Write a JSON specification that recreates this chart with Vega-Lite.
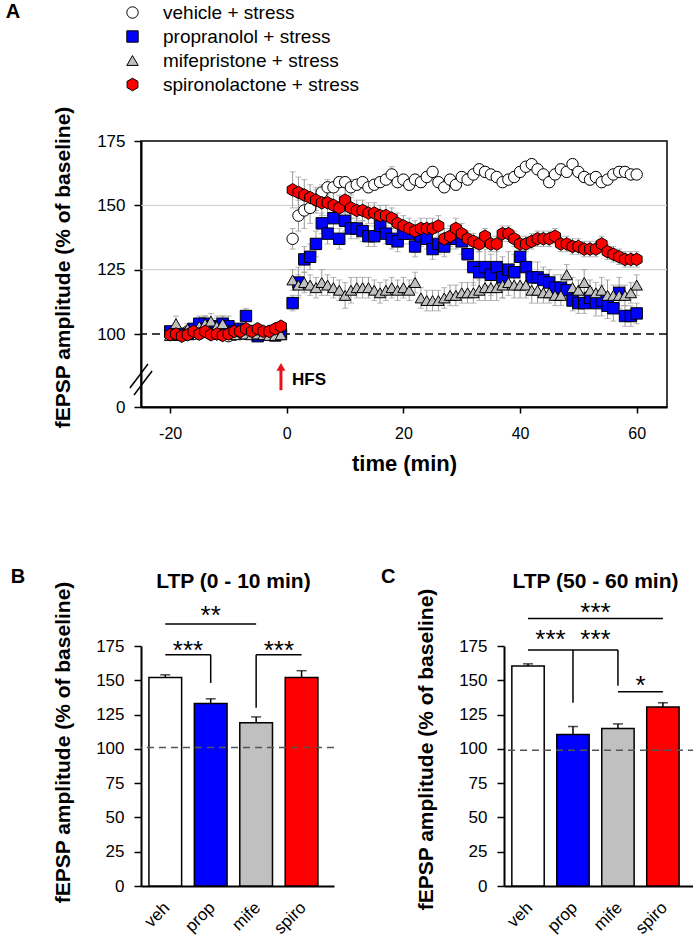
{
"$schema":"https://vega.github.io/schema/vega-lite/v6.json",
"padding":{"left":4,"top":1,"right":0,"bottom":0},
"config":{"font":"Liberation Sans","view":{"stroke":null},
"axis":{"domainColor":"black","domainWidth":2,"tickColor":"black","tickWidth":1.5,"labelColor":"black","titleColor":"black","grid":false}},
"resolve":{"scale":{"color":"independent","shape":"independent","stroke":"independent"},"legend":{"color":"independent","shape":"independent","stroke":"independent"}},
"datasets":{
"ts":[
{"g":"v","t":-20,"y":100,"e":2},{"g":"v","t":-19,"y":99,"e":1.5},{"g":"v","t":-18,"y":100,"e":1.5},{"g":"v","t":-17,"y":101,"e":2},{"g":"v","t":-16,"y":100,"e":1.5},{"g":"v","t":-15,"y":100,"e":1.5},{"g":"v","t":-14,"y":101,"e":2},{"g":"v","t":-13,"y":100,"e":1.5},{"g":"v","t":-12,"y":100,"e":1.5},{"g":"v","t":-11,"y":99,"e":2},{"g":"v","t":-10,"y":97,"e":2},{"g":"v","t":-9,"y":99,"e":1.5},{"g":"v","t":-8,"y":100,"e":1.5},{"g":"v","t":-7,"y":100,"e":1.5},{"g":"v","t":-6,"y":101,"e":2},{"g":"v","t":-5,"y":100,"e":1.5},{"g":"v","t":-4,"y":100,"e":1.5},{"g":"v","t":-3,"y":101,"e":1.5},{"g":"v","t":-2,"y":101,"e":1.5},{"g":"v","t":-1,"y":101,"e":1.5},
{"g":"v","t":1,"y":137,"e":4},{"g":"v","t":2,"y":146,"e":6},{"g":"v","t":3,"y":148,"e":7},{"g":"v","t":4,"y":149,"e":6},{"g":"v","t":5,"y":152,"e":4},{"g":"v","t":6,"y":155,"e":3},{"g":"v","t":7,"y":157,"e":3},{"g":"v","t":8,"y":157,"e":2},{"g":"v","t":9,"y":159,"e":2},{"g":"v","t":10,"y":159,"e":2},
{"g":"v","t":11,"y":157,"e":3},{"g":"v","t":12,"y":158,"e":2},{"g":"v","t":13,"y":159,"e":2},{"g":"v","t":14,"y":157,"e":2},{"g":"v","t":15,"y":158,"e":2},{"g":"v","t":16,"y":159,"e":2},{"g":"v","t":17,"y":160,"e":2},{"g":"v","t":18,"y":162,"e":3},{"g":"v","t":19,"y":159,"e":2},{"g":"v","t":20,"y":160,"e":2},
{"g":"v","t":21,"y":158,"e":2},{"g":"v","t":22,"y":160,"e":2},{"g":"v","t":23,"y":159,"e":2},{"g":"v","t":24,"y":161,"e":2},{"g":"v","t":25,"y":163,"e":2},{"g":"v","t":26,"y":159,"e":2},{"g":"v","t":27,"y":157,"e":2},{"g":"v","t":28,"y":160,"e":2},{"g":"v","t":29,"y":158,"e":2},{"g":"v","t":30,"y":161,"e":2},
{"g":"v","t":31,"y":160,"e":2},{"g":"v","t":32,"y":162,"e":2},{"g":"v","t":33,"y":164,"e":2},{"g":"v","t":34,"y":163,"e":2},{"g":"v","t":35,"y":162,"e":2},{"g":"v","t":36,"y":161,"e":2},{"g":"v","t":37,"y":159,"e":2},{"g":"v","t":38,"y":160,"e":2},{"g":"v","t":39,"y":161,"e":2},{"g":"v","t":40,"y":163,"e":2},
{"g":"v","t":41,"y":165,"e":2},{"g":"v","t":42,"y":166,"e":2},{"g":"v","t":43,"y":164,"e":2},{"g":"v","t":44,"y":162,"e":2},{"g":"v","t":45,"y":159,"e":2},{"g":"v","t":46,"y":162,"e":2},{"g":"v","t":47,"y":164,"e":2},{"g":"v","t":48,"y":163,"e":2},{"g":"v","t":49,"y":166,"e":2},{"g":"v","t":50,"y":163,"e":2},
{"g":"v","t":51,"y":161,"e":2},{"g":"v","t":52,"y":160,"e":2},{"g":"v","t":53,"y":161,"e":2},{"g":"v","t":54,"y":159,"e":2},{"g":"v","t":55,"y":160,"e":2},{"g":"v","t":56,"y":162,"e":2},{"g":"v","t":57,"y":163,"e":2},{"g":"v","t":58,"y":163,"e":2},{"g":"v","t":59,"y":162,"e":2},{"g":"v","t":60,"y":162,"e":2},
{"g":"p","t":-20,"y":101,"e":2},{"g":"p","t":-19,"y":99,"e":2},{"g":"p","t":-18,"y":100,"e":2},{"g":"p","t":-17,"y":100,"e":2},{"g":"p","t":-16,"y":102,"e":2},{"g":"p","t":-15,"y":104,"e":3},{"g":"p","t":-14,"y":104,"e":3},{"g":"p","t":-13,"y":103,"e":2},{"g":"p","t":-12,"y":102,"e":4},{"g":"p","t":-11,"y":104,"e":3},{"g":"p","t":-10,"y":103,"e":4},{"g":"p","t":-9,"y":101,"e":2},{"g":"p","t":-8,"y":102,"e":2},{"g":"p","t":-7,"y":107,"e":3},{"g":"p","t":-6,"y":101,"e":2},{"g":"p","t":-5,"y":97,"e":2},{"g":"p","t":-4,"y":100,"e":2},{"g":"p","t":-3,"y":99,"e":2},{"g":"p","t":-2,"y":98,"e":2},{"g":"p","t":-1,"y":100,"e":2},
{"g":"p","t":1,"y":112,"e":3},{"g":"p","t":2,"y":120,"e":6},{"g":"p","t":3,"y":129,"e":5},{"g":"p","t":4,"y":130,"e":5},{"g":"p","t":5,"y":135,"e":5},{"g":"p","t":6,"y":143,"e":4},{"g":"p","t":7,"y":139,"e":4},{"g":"p","t":8,"y":145,"e":4},{"g":"p","t":9,"y":137,"e":4},{"g":"p","t":10,"y":144,"e":4},
{"g":"p","t":11,"y":141,"e":4},{"g":"p","t":12,"y":141,"e":4},{"g":"p","t":13,"y":140,"e":4},{"g":"p","t":14,"y":138,"e":4},{"g":"p","t":15,"y":138,"e":4},{"g":"p","t":16,"y":142,"e":4},{"g":"p","t":17,"y":139,"e":4},{"g":"p","t":18,"y":137,"e":4},{"g":"p","t":19,"y":136,"e":4},{"g":"p","t":20,"y":139,"e":4},
{"g":"p","t":21,"y":139,"e":4},{"g":"p","t":22,"y":134,"e":4},{"g":"p","t":23,"y":138,"e":4},{"g":"p","t":24,"y":137,"e":4},{"g":"p","t":25,"y":133,"e":4},{"g":"p","t":26,"y":135,"e":4},{"g":"p","t":27,"y":134,"e":4},{"g":"p","t":28,"y":137,"e":4},{"g":"p","t":29,"y":137,"e":4},{"g":"p","t":30,"y":136,"e":5},
{"g":"p","t":31,"y":131,"e":6},{"g":"p","t":32,"y":126,"e":7},{"g":"p","t":33,"y":124,"e":8},{"g":"p","t":34,"y":126,"e":7},{"g":"p","t":35,"y":123,"e":8},{"g":"p","t":36,"y":126,"e":7},{"g":"p","t":37,"y":122,"e":8},{"g":"p","t":38,"y":125,"e":7},{"g":"p","t":39,"y":124,"e":7},{"g":"p","t":40,"y":130,"e":6},
{"g":"p","t":41,"y":126,"e":7},{"g":"p","t":42,"y":122,"e":6},{"g":"p","t":43,"y":122,"e":6},{"g":"p","t":44,"y":121,"e":5},{"g":"p","t":45,"y":120,"e":5},{"g":"p","t":46,"y":118,"e":5},{"g":"p","t":47,"y":118,"e":5},{"g":"p","t":48,"y":117,"e":4},{"g":"p","t":49,"y":113,"e":4},{"g":"p","t":50,"y":112,"e":4},
{"g":"p","t":51,"y":112,"e":4},{"g":"p","t":52,"y":114,"e":4},{"g":"p","t":53,"y":112,"e":5},{"g":"p","t":54,"y":113,"e":6},{"g":"p","t":55,"y":111,"e":5},{"g":"p","t":56,"y":110,"e":5},{"g":"p","t":57,"y":116,"e":6},{"g":"p","t":58,"y":107,"e":4},{"g":"p","t":59,"y":107,"e":4},{"g":"p","t":60,"y":108,"e":4},
{"g":"m","t":-20,"y":98,"e":2},{"g":"m","t":-19,"y":104,"e":3},{"g":"m","t":-18,"y":100,"e":2},{"g":"m","t":-17,"y":102,"e":2},{"g":"m","t":-16,"y":101,"e":2},{"g":"m","t":-15,"y":103,"e":3},{"g":"m","t":-14,"y":104,"e":3},{"g":"m","t":-13,"y":105,"e":3},{"g":"m","t":-12,"y":103,"e":4},{"g":"m","t":-11,"y":104,"e":3},{"g":"m","t":-10,"y":100,"e":2},{"g":"m","t":-9,"y":99,"e":2},{"g":"m","t":-8,"y":101,"e":2},{"g":"m","t":-7,"y":100,"e":2},{"g":"m","t":-6,"y":99,"e":2},{"g":"m","t":-5,"y":100,"e":2},{"g":"m","t":-4,"y":99,"e":2},{"g":"m","t":-3,"y":98,"e":2},{"g":"m","t":-2,"y":98,"e":2},{"g":"m","t":-1,"y":99,"e":2},
{"g":"m","t":1,"y":121,"e":4},{"g":"m","t":2,"y":119,"e":4},{"g":"m","t":3,"y":120,"e":4},{"g":"m","t":4,"y":119,"e":4},{"g":"m","t":5,"y":118,"e":4},{"g":"m","t":6,"y":120,"e":5},{"g":"m","t":7,"y":119,"e":4},{"g":"m","t":8,"y":118,"e":4},{"g":"m","t":9,"y":117,"e":4},{"g":"m","t":10,"y":115,"e":5},
{"g":"m","t":11,"y":117,"e":5},{"g":"m","t":12,"y":118,"e":4},{"g":"m","t":13,"y":118,"e":4},{"g":"m","t":14,"y":118,"e":4},{"g":"m","t":15,"y":117,"e":4},{"g":"m","t":16,"y":116,"e":4},{"g":"m","t":17,"y":117,"e":4},{"g":"m","t":18,"y":118,"e":4},{"g":"m","t":19,"y":117,"e":4},{"g":"m","t":20,"y":118,"e":4},
{"g":"m","t":21,"y":117,"e":4},{"g":"m","t":22,"y":120,"e":4},{"g":"m","t":23,"y":114,"e":4},{"g":"m","t":24,"y":113,"e":4},{"g":"m","t":25,"y":113,"e":4},{"g":"m","t":26,"y":113,"e":4},{"g":"m","t":27,"y":114,"e":4},{"g":"m","t":28,"y":115,"e":4},{"g":"m","t":29,"y":115,"e":4},{"g":"m","t":30,"y":116,"e":4},
{"g":"m","t":31,"y":116,"e":4},{"g":"m","t":32,"y":116,"e":4},{"g":"m","t":33,"y":117,"e":4},{"g":"m","t":34,"y":118,"e":5},{"g":"m","t":35,"y":118,"e":5},{"g":"m","t":36,"y":118,"e":5},{"g":"m","t":37,"y":119,"e":5},{"g":"m","t":38,"y":120,"e":5},{"g":"m","t":39,"y":119,"e":5},{"g":"m","t":40,"y":119,"e":5},
{"g":"m","t":41,"y":119,"e":5},{"g":"m","t":42,"y":117,"e":5},{"g":"m","t":43,"y":117,"e":5},{"g":"m","t":44,"y":116,"e":4},{"g":"m","t":45,"y":116,"e":4},{"g":"m","t":46,"y":115,"e":4},{"g":"m","t":47,"y":115,"e":4},{"g":"m","t":48,"y":123,"e":4},{"g":"m","t":49,"y":118,"e":4},{"g":"m","t":50,"y":117,"e":4},
{"g":"m","t":51,"y":120,"e":5},{"g":"m","t":52,"y":117,"e":4},{"g":"m","t":53,"y":116,"e":4},{"g":"m","t":54,"y":117,"e":5},{"g":"m","t":55,"y":115,"e":6},{"g":"m","t":56,"y":115,"e":4},{"g":"m","t":57,"y":115,"e":4},{"g":"m","t":58,"y":115,"e":4},{"g":"m","t":59,"y":116,"e":4},{"g":"m","t":60,"y":119,"e":4},
{"g":"s","t":-20,"y":99,"e":1.5},{"g":"s","t":-19,"y":100,"e":1.5},{"g":"s","t":-18,"y":97,"e":1.5},{"g":"s","t":-17,"y":99,"e":1.5},{"g":"s","t":-16,"y":101,"e":1.5},{"g":"s","t":-15,"y":100,"e":1.5},{"g":"s","t":-14,"y":101,"e":1.5},{"g":"s","t":-13,"y":99,"e":1.5},{"g":"s","t":-12,"y":100,"e":1.5},{"g":"s","t":-11,"y":98,"e":1.5},{"g":"s","t":-10,"y":100,"e":1.5},{"g":"s","t":-9,"y":101,"e":1.5},{"g":"s","t":-8,"y":101,"e":1.5},{"g":"s","t":-7,"y":102,"e":1.5},{"g":"s","t":-6,"y":101,"e":1.5},{"g":"s","t":-5,"y":102,"e":1.5},{"g":"s","t":-4,"y":101,"e":1.5},{"g":"s","t":-3,"y":101,"e":1.5},{"g":"s","t":-2,"y":102,"e":1.5},{"g":"s","t":-1,"y":103,"e":1.5},
{"g":"s","t":1,"y":156,"e":7},{"g":"s","t":2,"y":155,"e":6},{"g":"s","t":3,"y":154,"e":6},{"g":"s","t":4,"y":153,"e":5},{"g":"s","t":5,"y":152,"e":5},{"g":"s","t":6,"y":151,"e":5},{"g":"s","t":7,"y":151,"e":5},{"g":"s","t":8,"y":150,"e":5},{"g":"s","t":9,"y":149,"e":5},{"g":"s","t":10,"y":152,"e":5},
{"g":"s","t":11,"y":149,"e":4},{"g":"s","t":12,"y":148,"e":4},{"g":"s","t":13,"y":148,"e":4},{"g":"s","t":14,"y":147,"e":4},{"g":"s","t":15,"y":147,"e":4},{"g":"s","t":16,"y":146,"e":4},{"g":"s","t":17,"y":146,"e":4},{"g":"s","t":18,"y":145,"e":4},{"g":"s","t":19,"y":143,"e":4},{"g":"s","t":20,"y":142,"e":4},
{"g":"s","t":21,"y":141,"e":4},{"g":"s","t":22,"y":140,"e":4},{"g":"s","t":23,"y":141,"e":4},{"g":"s","t":24,"y":141,"e":4},{"g":"s","t":25,"y":141,"e":4},{"g":"s","t":26,"y":142,"e":4},{"g":"s","t":27,"y":137,"e":4},{"g":"s","t":28,"y":138,"e":4},{"g":"s","t":29,"y":141,"e":4},{"g":"s","t":30,"y":139,"e":4},
{"g":"s","t":31,"y":137,"e":3},{"g":"s","t":32,"y":136,"e":3},{"g":"s","t":33,"y":135,"e":3},{"g":"s","t":34,"y":138,"e":3},{"g":"s","t":35,"y":135,"e":3},{"g":"s","t":36,"y":135,"e":3},{"g":"s","t":37,"y":139,"e":3},{"g":"s","t":38,"y":139,"e":3},{"g":"s","t":39,"y":137,"e":3},{"g":"s","t":40,"y":135,"e":3},
{"g":"s","t":41,"y":135,"e":3},{"g":"s","t":42,"y":136,"e":3},{"g":"s","t":43,"y":137,"e":3},{"g":"s","t":44,"y":137,"e":3},{"g":"s","t":45,"y":137,"e":3},{"g":"s","t":46,"y":138,"e":3},{"g":"s","t":47,"y":135,"e":3},{"g":"s","t":48,"y":135,"e":3},{"g":"s","t":49,"y":134,"e":3},{"g":"s","t":50,"y":134,"e":3},
{"g":"s","t":51,"y":133,"e":3},{"g":"s","t":52,"y":133,"e":3},{"g":"s","t":53,"y":133,"e":3},{"g":"s","t":54,"y":135,"e":3},{"g":"s","t":55,"y":132,"e":3},{"g":"s","t":56,"y":131,"e":3},{"g":"s","t":57,"y":130,"e":3},{"g":"s","t":58,"y":129,"e":3},{"g":"s","t":59,"y":129,"e":3},{"g":"s","t":60,"y":129,"e":3}
],
"names":[{"g":"v","name":"vehicle + stress"},{"g":"p","name":"propranolol + stress"},{"g":"m","name":"mifepristone + stress"},{"g":"s","name":"spironolactone + stress"}],
"barsB":[{"g":"veh","m":152,"hi":154},{"g":"prop","m":133,"hi":136.5},{"g":"mife","m":119,"hi":123.3},{"g":"spiro","m":152,"hi":157}],
"barsC":[{"g":"veh","m":160.5,"hi":162},{"g":"prop","m":110.5,"hi":116.3},{"g":"mife","m":114.8,"hi":118.2},{"g":"spiro","m":130.6,"hi":133.6}]
},
"concat":[
{
"width":526,"height":266,
"view":{"stroke":"black","strokeWidth":1.5},
"layer":[
{"data":{"values":[{"y":125},{"y":150}]},"mark":{"type":"rule","color":"#c8c8c8","strokeWidth":1},
 "encoding":{"y":{"field":"y","type":"quantitative","title":"fEPSP amplitude (% of baseline)","scale":{"domain":[0,100,175],"range":[266,193,0],"nice":false,"zero":false},
 "axis":{"values":[0,100,125,150,175],"labelFontSize":17,"tickSize":7,"labelPadding":9,"titleFontSize":21,"titleFontWeight":"bold","titlePadding":23,"titleY":126}}}},
{"data":{"values":[{"y":100}]},"mark":{"type":"rule","color":"black","strokeDash":[8,5],"strokeWidth":1.5},
 "encoding":{"y":{"field":"y","type":"quantitative","title":"fEPSP amplitude (% of baseline)"}}},
{"data":{"name":"ts"},"mark":{"type":"errorbar","color":"#9a9a9a","thickness":1,"ticks":{"size":6}},
 "encoding":{"x":{"field":"t","type":"quantitative","title":"time (min)","scale":{"domain":[-25,65.2],"nice":false,"zero":false}},
 "y":{"field":"y","type":"quantitative","title":"fEPSP amplitude (% of baseline)"},"yError":{"field":"e"}}},
{"data":{"name":"ts"},"transform":[{"lookup":"g","from":{"data":{"name":"names"},"key":"g","fields":["name"]}}],
 "mark":{"type":"point","filled":true,"strokeWidth":1,"size":130,"opacity":1},
 "encoding":{"x":{"field":"t","type":"quantitative","title":"time (min)","scale":{"domain":[-25,65.2],"nice":false,"zero":false},
 "axis":{"values":[-20,0,20,40,60],"labelExpr":"replace(datum.label,'\u2212','-')","labelFontSize":16,"tickSize":6,"labelPadding":12,"titleFontSize":22,"titleFontWeight":"bold","titlePadding":12}},
 "y":{"field":"y","type":"quantitative","title":"fEPSP amplitude (% of baseline)"},
 "color":{"field":"name","type":"nominal","scale":{"domain":["vehicle + stress","propranolol + stress","mifepristone + stress","spironolactone + stress"],"range":["#ffffff","#0000ff","#c0c0c0","#ff0000"]},
  "legend":{"title":null,"orient":"none","legendX":-18,"legendY":-138,"padding":0,"rowPadding":4,"labelFontSize":19,"labelOffset":21,"symbolSize":130,"symbolStrokeWidth":1,"symbolOpacity":1,"labelLimit":400}},
 "stroke":{"field":"name","type":"nominal","scale":{"domain":["vehicle + stress","propranolol + stress","mifepristone + stress","spironolactone + stress"],"range":["#000000","#000000","#000000","#000000"]},
  "legend":{"title":null,"orient":"none","legendX":-18,"legendY":-138,"padding":0,"rowPadding":4,"labelFontSize":19,"labelOffset":21,"symbolSize":130,"symbolStrokeWidth":1,"symbolOpacity":1,"labelLimit":400}},
 "shape":{"field":"name","type":"nominal","scale":{"domain":["vehicle + stress","propranolol + stress","mifepristone + stress","spironolactone + stress"],"range":["circle","square","triangle-up","M0,-1.1L0.95,-0.55L0.95,0.55L0,1.1L-0.95,0.55L-0.95,-0.55Z"]},
  "legend":{"title":null,"orient":"none","legendX":-18,"legendY":-138,"padding":0,"rowPadding":4,"labelFontSize":19,"labelOffset":21,"symbolSize":130,"symbolStrokeWidth":1,"symbolOpacity":1,"labelLimit":400}}}},
{"data":{"values":[{"t":-1,"y":23,"y2":51}]},"mark":{"type":"rule","color":"#e8141c","strokeWidth":3},
 "encoding":{"x":{"field":"t","type":"quantitative","title":"time (min)"},"y":{"field":"y","type":"quantitative","title":"fEPSP amplitude (% of baseline)"},"y2":{"field":"y2"}}},
{"data":{"values":[{"t":-1,"y":54.8}]},"mark":{"type":"point","shape":"triangle-up","filled":true,"color":"#e8141c","size":80,"opacity":1},
 "encoding":{"x":{"field":"t","type":"quantitative","title":"time (min)"},"y":{"field":"y","type":"quantitative","title":"fEPSP amplitude (% of baseline)"}}},
{"data":{"values":[{"t":0.9,"y":37,"s":"HFS"}]},"mark":{"type":"text","align":"left","baseline":"middle","fontSize":17,"fontWeight":"bold","color":"black"},
 "encoding":{"x":{"field":"t","type":"quantitative","title":"time (min)"},"y":{"field":"y","type":"quantitative","title":"fEPSP amplitude (% of baseline)"},"text":{"field":"s"}}},
{"data":{"values":[{"t":-26.9,"t2":-23.8,"y":26,"y2":58.9},{"t":-26.2,"t2":-23.1,"y":16.4,"y2":49.3}]},"mark":{"type":"rule","color":"black","strokeWidth":1.5},
 "encoding":{"x":{"field":"t","type":"quantitative","title":"time (min)"},"x2":{"field":"t2"},"y":{"field":"y","type":"quantitative","title":"fEPSP amplitude (% of baseline)"},"y2":{"field":"y2"}}},
{"data":{"values":[{"t":-48.2,"y":229,"s":"A"}]},"mark":{"type":"text","align":"left","baseline":"top","fontSize":20,"fontWeight":"bold","color":"black"},
 "encoding":{"x":{"field":"t","type":"quantitative","title":"time (min)"},"y":{"field":"y","type":"quantitative","title":"fEPSP amplitude (% of baseline)"},"text":{"field":"s"}}}
]
},
{
"hconcat":[
{
"width":193,"height":240,
"layer":[
{"data":{"name":"barsB"},"mark":{"type":"bar","stroke":"black","strokeWidth":1.5},
 "encoding":{"x":{"field":"g","type":"nominal","title":null,"scale":{"domain":["veh","prop","mife","spiro"],"paddingInner":0.28,"paddingOuter":0.264,"align":0.33},
  "axis":{"labels":false,"labelOpacity":0,"ticks":false,"labelFontSize":17,"labelPadding":6}},
  "y":{"field":"m","type":"quantitative","title":"fEPSP amplitude (% of baseline)","scale":{"domain":[0,175],"nice":false},
  "axis":{"values":[0,25,50,75,100,125,150,175],"labelOverlap":false,"labelFontSize":17,"tickSize":7,"labelPadding":10,"titleFontSize":21,"titleFontWeight":"bold","titlePadding":22,"titleY":96}},
 "color":{"field":"g","type":"nominal","scale":{"domain":["veh","prop","mife","spiro"],"range":["#ffffff","#0000ff","#c0c0c0","#ff0000"]},"legend":null}}},
{"data":{"name":"barsB"},"mark":{"type":"rule","color":"black","strokeWidth":1.5},
 "encoding":{"x":{"field":"g","type":"nominal","title":null,"axis":{"labels":false,"labelOpacity":0,"ticks":false,"labelFontSize":17,"labelPadding":6}},
 "y":{"field":"m","type":"quantitative","title":"fEPSP amplitude (% of baseline)","axis":{"values":[0,25,50,75,100,125,150,175],"labelOverlap":false,"labelFontSize":17,"tickSize":7,"labelPadding":10,"titleFontSize":21,"titleFontWeight":"bold","titlePadding":22,"titleY":96}},"y2":{"field":"hi"}}},
{"data":{"name":"barsB"},"mark":{"type":"tick","color":"black","thickness":1.5,"size":10,"orient":"horizontal"},
 "encoding":{"x":{"field":"g","type":"nominal","title":null,"axis":{"labels":false,"labelOpacity":0,"ticks":false,"labelFontSize":17,"labelPadding":6}},
 "y":{"field":"hi","type":"quantitative","title":"fEPSP amplitude (% of baseline)","axis":{"values":[0,25,50,75,100,125,150,175],"labelOverlap":false,"labelFontSize":17,"tickSize":7,"labelPadding":10,"titleFontSize":21,"titleFontWeight":"bold","titlePadding":22,"titleY":96}}}},
{"data":{"name":"barsB"},"mark":{"type":"text","angle":315,"align":"right","baseline":"top","fontSize":17,"color":"black"},
 "encoding":{"x":{"field":"g","type":"nominal","title":null,"bandPosition":0.38,"axis":{"labels":false,"labelOpacity":0,"ticks":false,"labelFontSize":17,"labelPadding":6}},
 "y":{"datum":-10,"type":"quantitative","title":"fEPSP amplitude (% of baseline)","axis":{"values":[0,25,50,75,100,125,150,175],"labelOverlap":false,"labelFontSize":17,"tickSize":7,"labelPadding":10,"titleFontSize":21,"titleFontWeight":"bold","titlePadding":22,"titleY":96}},"text":{"field":"g"}}},
{"data":{"values":[{"y":101}]},"mark":{"type":"rule","color":"#555555","strokeDash":[7,5],"strokeWidth":1.5},
 "encoding":{"y":{"field":"y","type":"quantitative","title":"fEPSP amplitude (% of baseline)","axis":{"values":[0,25,50,75,100,125,150,175],"labelOverlap":false,"labelFontSize":17,"tickSize":7,"labelPadding":10,"titleFontSize":21,"titleFontWeight":"bold","titlePadding":22,"titleY":96}}}},
{"data":{"values":[{"a":"veh","b":"prop","y1":168.6,"y2":168.6},{"a":"prop","b":"prop","y1":148,"y2":168.6},{"a":"veh","b":"mife","y1":191,"y2":191},{"a":"mife","b":"spiro","y1":168.6,"y2":168.6},{"a":"mife","b":"mife","y1":130,"y2":168.6}]},
 "mark":{"type":"rule","color":"black","strokeWidth":1.5},
 "encoding":{"x":{"field":"a","type":"nominal","title":null,"axis":{"labels":false,"labelOpacity":0,"ticks":false,"labelFontSize":17,"labelPadding":6}},"x2":{"field":"b"},
 "y":{"field":"y1","type":"quantitative","title":"fEPSP amplitude (% of baseline)","axis":{"values":[0,25,50,75,100,125,150,175],"labelOverlap":false,"labelFontSize":17,"tickSize":7,"labelPadding":10,"titleFontSize":21,"titleFontWeight":"bold","titlePadding":22,"titleY":96}},"y2":{"field":"y2"}}},
{"data":{"values":[{"a":"veh","y":181,"s":"***"},{"a":"mife","y":181,"s":"***"}]},"mark":{"type":"text","fontSize":26,"baseline":"top","align":"center","color":"black"},
 "encoding":{"x":{"field":"a","type":"nominal","title":null,"bandPosition":1.195,"axis":{"labels":false,"labelOpacity":0,"ticks":false,"labelFontSize":17,"labelPadding":6}},
 "y":{"field":"y","type":"quantitative","title":"fEPSP amplitude (% of baseline)","axis":{"values":[0,25,50,75,100,125,150,175],"labelOverlap":false,"labelFontSize":17,"tickSize":7,"labelPadding":10,"titleFontSize":21,"titleFontWeight":"bold","titlePadding":22,"titleY":96}},"text":{"field":"s"}}},
{"data":{"values":[{"a":"prop","y":206.6,"s":"**"}]},"mark":{"type":"text","fontSize":26,"baseline":"top","align":"center","color":"black"},
 "encoding":{"x":{"field":"a","type":"nominal","title":null,"axis":{"labels":false,"labelOpacity":0,"ticks":false,"labelFontSize":17,"labelPadding":6}},
 "y":{"field":"y","type":"quantitative","title":"fEPSP amplitude (% of baseline)","axis":{"values":[0,25,50,75,100,125,150,175],"labelOverlap":false,"labelFontSize":17,"tickSize":7,"labelPadding":10,"titleFontSize":21,"titleFontWeight":"bold","titlePadding":22,"titleY":96}},"text":{"field":"s"}}},
{"data":{"values":[{"a":"prop","y":217.5,"s":"LTP (0 - 10 min)"}]},"mark":{"type":"text","fontSize":21,"fontWeight":"bold","baseline":"alphabetic","align":"center","color":"black"},
 "encoding":{"x":{"field":"a","type":"nominal","title":null,"bandPosition":1.195,"axis":{"labels":false,"labelOpacity":0,"ticks":false,"labelFontSize":17,"labelPadding":6}},
 "y":{"field":"y","type":"quantitative","title":"fEPSP amplitude (% of baseline)","axis":{"values":[0,25,50,75,100,125,150,175],"labelOverlap":false,"labelFontSize":17,"tickSize":7,"labelPadding":10,"titleFontSize":21,"titleFontWeight":"bold","titlePadding":22,"titleY":96}},"text":{"field":"s"}}},
{"data":{"values":[{"a":"veh","y":232.5,"s":"B"}]},"mark":{"type":"text","fontSize":20,"fontWeight":"bold","baseline":"top","align":"left","color":"black"},
 "encoding":{"x":{"field":"a","type":"nominal","title":null,"bandPosition":-4.22,"axis":{"labels":false,"labelOpacity":0,"ticks":false,"labelFontSize":17,"labelPadding":6}},
 "y":{"field":"y","type":"quantitative","title":"fEPSP amplitude (% of baseline)","axis":{"values":[0,25,50,75,100,125,150,175],"labelOverlap":false,"labelFontSize":17,"tickSize":7,"labelPadding":10,"titleFontSize":21,"titleFontWeight":"bold","titlePadding":22,"titleY":96}},"text":{"field":"s"}}}
]
},
{
"width":191,"height":240,
"layer":[
{"data":{"name":"barsC"},"mark":{"type":"bar","stroke":"black","strokeWidth":1.5},
 "encoding":{"x":{"field":"g","type":"nominal","title":null,"scale":{"domain":["veh","prop","mife","spiro"],"paddingInner":0.28,"paddingOuter":0.264,"align":0.33},
  "axis":{"labels":false,"labelOpacity":0,"ticks":false,"labelFontSize":17,"labelPadding":6}},
  "y":{"field":"m","type":"quantitative","title":"fEPSP amplitude (% of baseline)","scale":{"domain":[0,175],"nice":false},
  "axis":{"values":[0,25,50,75,100,125,150,175],"labelOverlap":false,"labelFontSize":17,"tickSize":7,"labelPadding":10,"titleFontSize":21,"titleFontWeight":"bold","titlePadding":22,"titleY":103}},
 "color":{"field":"g","type":"nominal","scale":{"domain":["veh","prop","mife","spiro"],"range":["#ffffff","#0000ff","#c0c0c0","#ff0000"]},"legend":null}}},
{"data":{"name":"barsC"},"mark":{"type":"rule","color":"black","strokeWidth":1.5},
 "encoding":{"x":{"field":"g","type":"nominal","title":null,"axis":{"labels":false,"labelOpacity":0,"ticks":false,"labelFontSize":17,"labelPadding":6}},
 "y":{"field":"m","type":"quantitative","title":"fEPSP amplitude (% of baseline)","axis":{"values":[0,25,50,75,100,125,150,175],"labelOverlap":false,"labelFontSize":17,"tickSize":7,"labelPadding":10,"titleFontSize":21,"titleFontWeight":"bold","titlePadding":22,"titleY":103}},"y2":{"field":"hi"}}},
{"data":{"name":"barsC"},"mark":{"type":"tick","color":"black","thickness":1.5,"size":10,"orient":"horizontal"},
 "encoding":{"x":{"field":"g","type":"nominal","title":null,"axis":{"labels":false,"labelOpacity":0,"ticks":false,"labelFontSize":17,"labelPadding":6}},
 "y":{"field":"hi","type":"quantitative","title":"fEPSP amplitude (% of baseline)","axis":{"values":[0,25,50,75,100,125,150,175],"labelOverlap":false,"labelFontSize":17,"tickSize":7,"labelPadding":10,"titleFontSize":21,"titleFontWeight":"bold","titlePadding":22,"titleY":103}}}},
{"data":{"name":"barsC"},"mark":{"type":"text","angle":315,"align":"right","baseline":"top","fontSize":17,"color":"black"},
 "encoding":{"x":{"field":"g","type":"nominal","title":null,"bandPosition":0.38,"axis":{"labels":false,"labelOpacity":0,"ticks":false,"labelFontSize":17,"labelPadding":6}},
 "y":{"datum":-10,"type":"quantitative","title":"fEPSP amplitude (% of baseline)","axis":{"values":[0,25,50,75,100,125,150,175],"labelOverlap":false,"labelFontSize":17,"tickSize":7,"labelPadding":10,"titleFontSize":21,"titleFontWeight":"bold","titlePadding":22,"titleY":103}},"text":{"field":"g"}}},
{"data":{"values":[{"y":99}]},"mark":{"type":"rule","color":"#555555","strokeDash":[7,5],"strokeWidth":1.5},
 "encoding":{"y":{"field":"y","type":"quantitative","title":"fEPSP amplitude (% of baseline)","axis":{"values":[0,25,50,75,100,125,150,175],"labelOverlap":false,"labelFontSize":17,"tickSize":7,"labelPadding":10,"titleFontSize":21,"titleFontWeight":"bold","titlePadding":22,"titleY":103}}}},
{"data":{"values":[{"a":"veh","b":"spiro","y1":195,"y2":195},{"a":"veh","b":"mife","y1":172,"y2":172},{"a":"prop","b":"prop","y1":133.6,"y2":172},{"a":"mife","b":"mife","y1":146,"y2":172},{"a":"mife","b":"spiro","y1":141.6,"y2":141.6}]},
 "mark":{"type":"rule","color":"black","strokeWidth":1.5},
 "encoding":{"x":{"field":"a","type":"nominal","title":null,"axis":{"labels":false,"labelOpacity":0,"ticks":false,"labelFontSize":17,"labelPadding":6}},"x2":{"field":"b"},
 "y":{"field":"y1","type":"quantitative","title":"fEPSP amplitude (% of baseline)","axis":{"values":[0,25,50,75,100,125,150,175],"labelOverlap":false,"labelFontSize":17,"tickSize":7,"labelPadding":10,"titleFontSize":21,"titleFontWeight":"bold","titlePadding":22,"titleY":103}},"y2":{"field":"y2"}}},
{"data":{"values":[{"a":"prop","y":208.8,"s":"***"},{"a":"veh","y":189,"s":"***"},{"a":"prop","y":189,"s":"***"},{"a":"mife","y":155.5,"s":"*"}]},"mark":{"type":"text","fontSize":26,"baseline":"top","align":"center","color":"black"},
 "encoding":{"x":{"field":"a","type":"nominal","title":null,"bandPosition":1.195,"axis":{"labels":false,"labelOpacity":0,"ticks":false,"labelFontSize":17,"labelPadding":6}},
 "y":{"field":"y","type":"quantitative","title":"fEPSP amplitude (% of baseline)","axis":{"values":[0,25,50,75,100,125,150,175],"labelOverlap":false,"labelFontSize":17,"tickSize":7,"labelPadding":10,"titleFontSize":21,"titleFontWeight":"bold","titlePadding":22,"titleY":103}},"text":{"field":"s"}}},
{"data":{"values":[{"a":"prop","y":217.5,"s":"LTP (50 - 60 min)"}]},"mark":{"type":"text","fontSize":21,"fontWeight":"bold","baseline":"alphabetic","align":"center","color":"black"},
 "encoding":{"x":{"field":"a","type":"nominal","title":null,"bandPosition":1.195,"axis":{"labels":false,"labelOpacity":0,"ticks":false,"labelFontSize":17,"labelPadding":6}},
 "y":{"field":"y","type":"quantitative","title":"fEPSP amplitude (% of baseline)","axis":{"values":[0,25,50,75,100,125,150,175],"labelOverlap":false,"labelFontSize":17,"tickSize":7,"labelPadding":10,"titleFontSize":21,"titleFontWeight":"bold","titlePadding":22,"titleY":103}},"text":{"field":"s"}}},
{"data":{"values":[{"a":"veh","y":232.5,"s":"C"}]},"mark":{"type":"text","fontSize":20,"fontWeight":"bold","baseline":"top","align":"left","color":"black"},
 "encoding":{"x":{"field":"a","type":"nominal","title":null,"bandPosition":-4.04,"axis":{"labels":false,"labelOpacity":0,"ticks":false,"labelFontSize":17,"labelPadding":6}},
 "y":{"field":"y","type":"quantitative","title":"fEPSP amplitude (% of baseline)","axis":{"values":[0,25,50,75,100,125,150,175],"labelOverlap":false,"labelFontSize":17,"tickSize":7,"labelPadding":10,"titleFontSize":21,"titleFontWeight":"bold","titlePadding":22,"titleY":103}},"text":{"field":"s"}}}
]
}
],
"spacing":46
}
],
"columns":1,
"align":"none",
"spacing":92
}
